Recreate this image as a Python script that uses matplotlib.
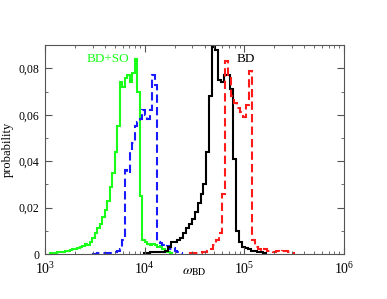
import numpy as np
import matplotlib
matplotlib.use("Agg")
import matplotlib.pyplot as plt
from matplotlib.ticker import FuncFormatter, MultipleLocator, LogLocator

# histogram data: first bin edge (log10 omega), bin width (log10), probabilities
green_start, green_width = 3.05, 0.025
green_vals = [0.0004, 0.0005, 0.0006, 0.0008, 0.001, 0.001, 0.0012, 0.0015,
              0.0017, 0.002, 0.0022, 0.0026, 0.003, 0.0035, 0.0042, 0.0038,
              0.005, 0.007, 0.009, 0.011, 0.013, 0.016, 0.019, 0.023,
              0.029, 0.035, 0.044, 0.055, 0.074, 0.072, 0.076, 0.077,
              0.074, 0.078, 0.084, 0.070, 0.025, 0.006, 0.005, 0.0045,
              0.004, 0.0045, 0.004, 0.003, 0.0035, 0.002, 0.0015, 0.0008, 0.0003]

blue_start, blue_width = 3.475, 0.025
blue_vals = [0.0002, 0.0002, 0.0003, 0.0003, 0.0004, 0.0004, 0.0005, 0.0005,
             0.0006, 0.0008, 0.0015, 0.002, 0.006, 0.036, 0.035, 0.044,
             0.048, 0.055, 0.057, 0.058, 0.062, 0.060, 0.058, 0.062,
             0.077, 0.073, 0.005, 0.0047, 0.004, 0.003, 0.0035, 0.002,
             0.0025, 0.0015, 0.001, 0.0005]

black_start, black_width = 3.99, 0.03
black_vals = [0.0005, 0.0005, 0.0007, 0.0008, 0.0008, 0.001, 0.001, 0.0012,
              0.003, 0.005, 0.005, 0.006, 0.007, 0.009, 0.011, 0.013,
              0.015, 0.018, 0.022, 0.026, 0.030, 0.044, 0.068, 0.089,
              0.088, 0.075, 0.074, 0.077, 0.077, 0.071, 0.041, 0.010,
              0.005, 0.003, 0.0025, 0.002, 0.0015, 0.0012, 0.001, 0.0008, 0.0005]

red_start, red_width = 4.45, 0.03
red_vals = [0.0005, 0.0005, 0.0005, 0.0005, 0.0008, 0.001, 0.0015, 0.002,
            0.004, 0.006, 0.009, 0.026, 0.083, 0.077, 0.068, 0.065,
            0.063, 0.061, 0.059, 0.064, 0.079, 0.006, 0.003, 0.002,
            0.0015, 0.002, 0.0015, 0.0015, 0.001, 0.0015, 0.001, 0.0012,
            0.0015, 0.0008, 0.0003]

plt.rcParams['font.family'] = ['Liberation Serif', 'DejaVu Serif']
plt.rcParams['mathtext.fontset'] = 'stix'


def edges(start, width, vals):
    return 10 ** (start + width * np.arange(len(vals) + 1))


fig = plt.figure(figsize=(3.87, 2.99), dpi=100)
ax = fig.add_axes([0.1163, 0.1505, 0.7727, 0.6985])

ax.stairs(green_vals, edges(green_start, green_width, green_vals),
          color='#1aff1a', lw=1.5)
ax.stairs(blue_vals, edges(blue_start, blue_width, blue_vals),
          color='#1a1aff', lw=1.5, linestyle=(0, (4, 2)))
ax.stairs(black_vals, edges(black_start, black_width, black_vals),
          color='black', lw=1.5)
ax.stairs(red_vals, edges(red_start, red_width, red_vals),
          color='#ff1a1a', lw=1.5, linestyle=(0, (4, 2)))

ax.set_xscale('log')
ax.set_xlim(1e3, 1e6)
ax.set_ylim(0, 0.09)

ax.yaxis.set_major_locator(MultipleLocator(0.02))
ax.yaxis.set_minor_locator(MultipleLocator(0.01))
ax.yaxis.set_major_formatter(FuncFormatter(
    lambda v, p: '0' if abs(v) < 1e-9 else f'{v:.2f}'.replace('.', ',')))
ax.xaxis.set_major_locator(LogLocator(base=10, numticks=10))
ax.xaxis.set_minor_locator(LogLocator(base=10, subs=np.arange(2, 10), numticks=10))

ax.tick_params(which='both', direction='in', top=True, right=True,
               color='#555555')
ax.tick_params(which='major', length=5)
ax.tick_params(which='minor', length=2.5)
ax.tick_params(axis='x', labelsize=10, pad=5)
ax.tick_params(axis='y', labelsize=8.5, pad=4)
for s in ax.spines.values():
    s.set_color('#555555')

ax.set_ylabel('probability', fontsize=9)
ax.yaxis.set_label_coords(-0.105, 0.5)
ax.set_xlabel(r'$\omega_{\rm BD}$', fontsize=10)
ax.xaxis.set_label_coords(0.5, -0.055)

ax.text(0.14, 0.92, 'BD+SO', color='#1aff1a', fontsize=9.5, transform=ax.transAxes)
ax.text(0.64, 0.92, 'BD', color='black', fontsize=9.5, transform=ax.transAxes)

fig.savefig('out.png', dpi=100)
